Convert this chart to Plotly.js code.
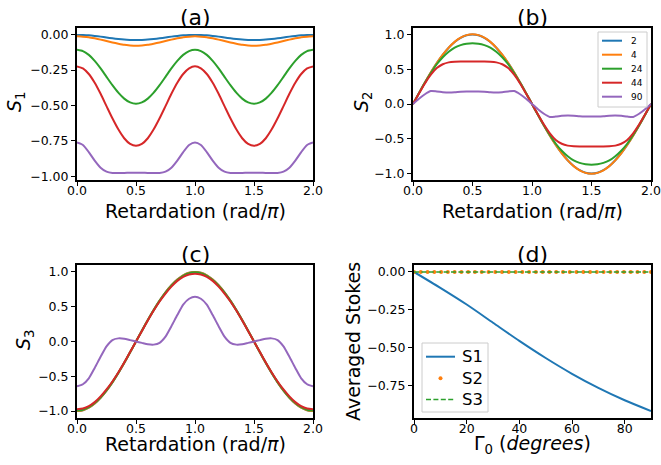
<!DOCTYPE html>
<html>
<head>
<meta charset="utf-8">
<script src="https://cdn.plot.ly/plotly-3.0.1.min.js"></script>
<style>html,body{margin:0;padding:0;background:#fff;}#chart{width:661px;height:465px;}</style>
</head>
<body>
<div id="chart"></div>
<script>
// ---- data ----
const retardation = [0,0.05,0.1,0.15,0.2,0.25,0.3,0.35,0.4,0.45,0.5,0.55,0.6,0.65,0.7,0.75,0.8,0.85,0.9,0.95,1,1.05,1.1,1.15,1.2,1.25,1.3,1.35,1.4,1.45,1.5,1.55,1.6,1.65,1.7,1.75,1.8,1.85,1.9,1.95,2];
const seriesNames = ['2','4','24','44','90'];
const seriesColors = ['#1f77b4','#ff7f0e','#2ca02c','#d62728','#9467bd'];

const s1_2  = [-0.002,-0.003,-0.005,-0.009,-0.014,-0.020,-0.026,-0.031,-0.035,-0.037,-0.038,-0.037,-0.035,-0.031,-0.026,-0.020,-0.014,-0.009,-0.005,-0.003,-0.002,-0.003,-0.005,-0.009,-0.014,-0.020,-0.026,-0.031,-0.035,-0.037,-0.038,-0.037,-0.035,-0.031,-0.026,-0.020,-0.014,-0.009,-0.005,-0.003,-0.002];
const s1_4  = [-0.012,-0.014,-0.018,-0.026,-0.035,-0.045,-0.055,-0.064,-0.072,-0.076,-0.078,-0.076,-0.072,-0.064,-0.055,-0.045,-0.035,-0.026,-0.018,-0.014,-0.012,-0.014,-0.018,-0.026,-0.035,-0.045,-0.055,-0.064,-0.072,-0.076,-0.078,-0.076,-0.072,-0.064,-0.055,-0.045,-0.035,-0.026,-0.018,-0.014,-0.012];
const s1_24 = [-0.107,-0.116,-0.143,-0.185,-0.238,-0.298,-0.357,-0.410,-0.452,-0.479,-0.488,-0.479,-0.452,-0.410,-0.357,-0.298,-0.238,-0.185,-0.143,-0.116,-0.107,-0.116,-0.143,-0.185,-0.238,-0.298,-0.357,-0.410,-0.452,-0.479,-0.488,-0.479,-0.452,-0.410,-0.357,-0.298,-0.238,-0.185,-0.143,-0.116,-0.107];
const s1_44 = [-0.224,-0.238,-0.278,-0.340,-0.418,-0.505,-0.591,-0.669,-0.732,-0.772,-0.785,-0.772,-0.732,-0.669,-0.591,-0.505,-0.418,-0.340,-0.278,-0.238,-0.224,-0.238,-0.278,-0.340,-0.418,-0.505,-0.591,-0.669,-0.732,-0.772,-0.785,-0.772,-0.732,-0.669,-0.591,-0.505,-0.418,-0.340,-0.278,-0.238,-0.224];
const s1_90 = [-0.762,-0.780,-0.830,-0.890,-0.940,-0.968,-0.977,-0.978,-0.977,-0.976,-0.976,-0.976,-0.977,-0.978,-0.977,-0.968,-0.940,-0.890,-0.830,-0.780,-0.762,-0.780,-0.830,-0.890,-0.940,-0.968,-0.977,-0.978,-0.977,-0.976,-0.976,-0.976,-0.977,-0.978,-0.977,-0.968,-0.940,-0.890,-0.830,-0.780,-0.762];

const s2_2  = [0,0.156,0.308,0.453,0.587,0.706,0.807,0.889,0.949,0.986,0.998,0.986,0.949,0.889,0.807,0.706,0.587,0.453,0.308,0.156,0,-0.156,-0.308,-0.453,-0.587,-0.706,-0.807,-0.889,-0.949,-0.986,-0.998,-0.986,-0.949,-0.889,-0.807,-0.706,-0.587,-0.453,-0.308,-0.156,0];
const s2_4  = [0,0.156,0.309,0.454,0.588,0.707,0.809,0.891,0.951,0.988,1.000,0.988,0.951,0.891,0.809,0.707,0.588,0.454,0.309,0.156,0,-0.156,-0.309,-0.454,-0.588,-0.707,-0.809,-0.891,-0.951,-0.988,-1.000,-0.988,-0.951,-0.891,-0.809,-0.707,-0.588,-0.454,-0.309,-0.156,0];
const s2_24 = [0,0.155,0.305,0.445,0.570,0.670,0.750,0.810,0.845,0.865,0.871,0.865,0.845,0.810,0.750,0.670,0.570,0.445,0.305,0.155,0,-0.155,-0.305,-0.445,-0.570,-0.670,-0.750,-0.810,-0.845,-0.865,-0.871,-0.865,-0.845,-0.810,-0.750,-0.670,-0.570,-0.445,-0.305,-0.155,0];
const s2_44 = [0,0.150,0.295,0.420,0.515,0.570,0.597,0.607,0.610,0.610,0.610,0.610,0.610,0.607,0.597,0.570,0.515,0.420,0.295,0.150,0,-0.150,-0.295,-0.420,-0.515,-0.570,-0.597,-0.607,-0.610,-0.610,-0.610,-0.610,-0.610,-0.607,-0.597,-0.570,-0.515,-0.420,-0.295,-0.150,0];
const s2_90 = [0,0.075,0.140,0.185,0.180,0.170,0.165,0.168,0.175,0.178,0.178,0.178,0.175,0.168,0.165,0.170,0.180,0.185,0.140,0.075,0,-0.075,-0.140,-0.185,-0.180,-0.170,-0.165,-0.168,-0.175,-0.178,-0.178,-0.178,-0.175,-0.168,-0.165,-0.170,-0.180,-0.185,-0.140,-0.075,0];

const s3_2  = [-1,-0.988,-0.951,-0.891,-0.809,-0.707,-0.588,-0.454,-0.309,-0.156,0,0.156,0.309,0.454,0.588,0.707,0.809,0.891,0.951,0.988,1,0.988,0.951,0.891,0.809,0.707,0.588,0.454,0.309,0.156,0,-0.156,-0.309,-0.454,-0.588,-0.707,-0.809,-0.891,-0.951,-0.988,-1];
const s3_4  = [-1,-0.988,-0.951,-0.891,-0.809,-0.707,-0.588,-0.454,-0.309,-0.156,0,0.156,0.309,0.454,0.588,0.707,0.809,0.891,0.951,0.988,1,0.988,0.951,0.891,0.809,0.707,0.588,0.454,0.309,0.156,0,-0.156,-0.309,-0.454,-0.588,-0.707,-0.809,-0.891,-0.951,-0.988,-1];
const s3_24 = [-0.994,-0.982,-0.945,-0.885,-0.803,-0.702,-0.584,-0.451,-0.307,-0.155,0,0.155,0.307,0.451,0.584,0.702,0.803,0.885,0.945,0.982,0.994,0.982,0.945,0.885,0.803,0.702,0.584,0.451,0.307,0.155,0,-0.155,-0.307,-0.451,-0.584,-0.702,-0.803,-0.885,-0.945,-0.982,-0.994];
const s3_44 = [-0.975,-0.963,-0.930,-0.872,-0.790,-0.690,-0.575,-0.445,-0.302,-0.152,0,0.152,0.302,0.445,0.575,0.690,0.790,0.872,0.930,0.963,0.975,0.963,0.930,0.872,0.790,0.690,0.575,0.445,0.302,0.152,0,-0.152,-0.302,-0.445,-0.575,-0.690,-0.790,-0.872,-0.930,-0.963,-0.975];
const s3_90 = [-0.645,-0.615,-0.530,-0.380,-0.220,-0.070,0.020,0.045,0.040,0.020,0,-0.020,-0.040,-0.045,-0.020,0.070,0.220,0.380,0.530,0.615,0.645,0.615,0.530,0.380,0.220,0.070,-0.020,-0.045,-0.040,-0.020,0,0.020,0.040,0.045,0.020,-0.070,-0.220,-0.380,-0.530,-0.615,-0.645];

// panel (d)
const gammaDeg = [0,10,20,30,40,50,60,70,80,90];
const avgS1 = [0,-0.105,-0.215,-0.335,-0.455,-0.568,-0.672,-0.765,-0.847,-0.918];
const gammaFine = [0,2.57,5.14,7.71,10.29,12.86,15.43,18,20.57,23.14,25.71,28.29,30.86,33.43,36,38.57,41.14,43.71,46.29,48.86,51.43,54,56.57,59.14,61.71,64.29,66.86,69.43,72,74.57,77.14,79.71,82.29,84.86,87.43,90];
const avgS2 = [0,0,0,0,0,0,0,0,0,0,0,0,0,0,0,0,0,0,0,0,0,0,0,0,0,0,0,0,0,0,0,0,0,0,0,0];
const avgS3 = [0,0,0,0,0,0,0,0,0,0,0,0,0,0,0,0,0,0,0,0,0,0,0,0,0,0,0,0,0,0,0,0,0,0,0,0];
const avgNames = ['S1','S2','S3'];

const S1 = [s1_2,s1_4,s1_24,s1_44,s1_90];
const S2 = [s2_2,s2_4,s2_24,s2_44,s2_90];
const S3 = [s3_2,s3_4,s3_24,s3_44,s3_90];

// ---- traces ----
const traces = [];
function addPanel(arr, xa, ya) {
  arr.forEach((ys, i) => {
    traces.push({
      x: retardation, y: ys, xaxis: xa, yaxis: ya, type: 'scatter', mode: 'lines',
      name: seriesNames[i], line: {color: seriesColors[i], width: 2, shape: 'spline', smoothing: 0.6},
      showlegend: false, hoverinfo: 'skip'
    });
  });
}
addPanel(S1, 'x', 'y');
addPanel(S2, 'x2', 'y2');
addPanel(S3, 'x3', 'y3');

traces.push({x: gammaDeg, y: avgS1, xaxis: 'x4', yaxis: 'y4', type: 'scatter', mode: 'lines',
  name: avgNames[0], line: {color: '#1f77b4', width: 2, shape: 'spline', smoothing: 0.8}, showlegend: false});
traces.push({x: gammaFine, y: avgS2, xaxis: 'x4', yaxis: 'y4', type: 'scatter', mode: 'markers',
  name: avgNames[1], marker: {color: '#ff7f0e', size: 4}, showlegend: false});
traces.push({x: gammaFine, y: avgS3, xaxis: 'x4', yaxis: 'y4', type: 'scatter', mode: 'lines',
  name: avgNames[2], line: {color: '#2ca02c', width: 1.5, dash: '5px,2.4px'}, showlegend: false});

// ---- layout ----
const W = 661, H = 465;
const FONT = 'DejaVu Sans';
function ax(extra) {
  return Object.assign({
    showline: true, linecolor: '#000', linewidth: 2, mirror: true,
    ticks: 'outside', ticklen: 4, tickwidth: 1, tickcolor: '#000',
    showgrid: false, zeroline: false,
    tickfont: {family: FONT, size: 12.5, color: '#000'}
  }, extra);
}
const colL = [77/W, 313/W], colR = [413/W, 651/W];
const rowT = [1-180/H, 1-28/H], rowB = [1-418/H, 1-265/H];
const retTicks = {tickmode: 'array', tickvals: [0,0.5,1,1.5,2], ticktext: ['0.0','0.5','1.0','1.5','2.0'], range: [0,2], ticklabelstandoff: -6};

function ann(text, px, py, size, angle, xanchor) {
  return {text: text, x: px/W, y: 1-py/H, xref: 'paper', yref: 'paper', showarrow: false,
    xanchor: xanchor || 'center', yanchor: 'middle', textangle: angle || 0,
    font: {family: FONT, size: size, color: '#000'}};
}
const px = v => v/W, py = v => 1-v/H;
const shapes = [];
const annotations = [
  ann('(a)', 195, 17.5, 22), ann('(b)', 532, 17.5, 22),
  ann('(c)', 195, 254, 22), ann('(d)', 532, 254, 22),
  ann('Retardation (rad/<i>π</i>)', 195, 211, 19),
  ann('Retardation (rad/<i>π</i>)', 532, 211, 19),
  ann('Retardation (rad/<i>π</i>)', 195, 444, 19),
  ann('Γ<sub>0</sub> (<i>degrees</i>)', 532, 444, 19),
  ann('<i>S</i><sub>1</sub>', 15, 102, 19, -90),
  ann('<i>S</i><sub>2</sub>', 362, 102, 19, -90),
  ann('<i>S</i><sub>3</sub>', 24, 340, 19, -90),
  ann('Averaged Stokes', 353, 342, 19, -90)
];

// legend for panel (b)
shapes.push({type: 'rect', xref: 'paper', yref: 'paper', x0: px(598), x1: px(647), y0: py(107), y1: py(32),
  fillcolor: 'rgba(255,255,255,0.8)', line: {color: '#cccccc', width: 1}, layer: 'above'});
seriesNames.forEach((nm, i) => {
  const yy = 40.7 + 14*i;
  shapes.push({type: 'line', xref: 'paper', yref: 'paper', x0: px(602), x1: px(622), y0: py(yy), y1: py(yy),
    line: {color: seriesColors[i], width: 2}, layer: 'above'});
  annotations.push(ann(nm, 629, yy, 9, 0, 'left'));
});
// legend for panel (d)
shapes.push({type: 'rect', xref: 'paper', yref: 'paper', x0: px(422), x1: px(488), y0: py(412), y1: py(343),
  fillcolor: 'rgba(255,255,255,0.8)', line: {color: '#cccccc', width: 1}, layer: 'above'});
const legD = [356.7, 378.3, 399.5];
shapes.push({type: 'line', xref: 'paper', yref: 'paper', x0: px(426), x1: px(455), y0: py(legD[0]), y1: py(legD[0]),
  line: {color: '#1f77b4', width: 2}, layer: 'above'});
shapes.push({type: 'circle', xref: 'paper', yref: 'paper', x0: px(438.5), x1: px(442.5), y0: py(legD[1]+2), y1: py(legD[1]-2),
  fillcolor: '#ff7f0e', line: {width: 0}, layer: 'above'});
shapes.push({type: 'line', xref: 'paper', yref: 'paper', x0: px(426), x1: px(455), y0: py(legD[2]), y1: py(legD[2]),
  line: {color: '#2ca02c', width: 1.5, dash: '5px,2.4px'}, layer: 'above'});
avgNames.forEach((nm, i) => annotations.push(ann(nm, 460, legD[i], 16.5, 0, 'left')));

const layout = {
  width: W, height: H, margin: {l: 0, r: 0, t: 0, b: 0},
  paper_bgcolor: '#fff', plot_bgcolor: '#fff', showlegend: false,
  font: {family: FONT, color: '#000'},
  xaxis: ax(Object.assign({domain: colL, anchor: 'y'}, retTicks)),
  yaxis: ax({domain: rowT, anchor: 'x', range: [-1.027, 0.047], tickmode: 'array',
    tickvals: [0,-0.25,-0.5,-0.75,-1], ticktext: ['0.00','\u22120.25','\u22120.50','\u22120.75','\u22121.00']}),
  xaxis2: ax(Object.assign({domain: colR, anchor: 'y2'}, retTicks)),
  yaxis2: ax({domain: rowT, anchor: 'x2', range: [-1.09, 1.09], tickmode: 'array',
    tickvals: [-1,-0.5,0,0.5,1], ticktext: ['\u22121.0','\u22120.5','0.0','0.5','1.0']}),
  xaxis3: ax(Object.assign({domain: colL, anchor: 'y3'}, retTicks)),
  yaxis3: ax({domain: rowB, anchor: 'x3', range: [-1.1, 1.1], tickmode: 'array',
    tickvals: [-1,-0.5,0,0.5,1], ticktext: ['\u22121.0','\u22120.5','0.0','0.5','1.0']}),
  xaxis4: ax({domain: [414/W, 651/W], anchor: 'y4', range: [0, 90], tickmode: 'array',
    tickvals: [0,20,40,60,80], ticktext: ['0','20','40','60','80'], ticklabelstandoff: -6}),
  yaxis4: ax({domain: rowB, anchor: 'x4', range: [-0.964, 0.046], tickmode: 'array',
    tickvals: [0,-0.25,-0.5,-0.75], ticktext: ['0.00','\u22120.25','\u22120.50','\u22120.75']}),
  shapes: shapes,
  annotations: annotations
};

Plotly.newPlot('chart', traces, layout, {staticPlot: true, displayModeBar: false});
</script>
</body>
</html>
